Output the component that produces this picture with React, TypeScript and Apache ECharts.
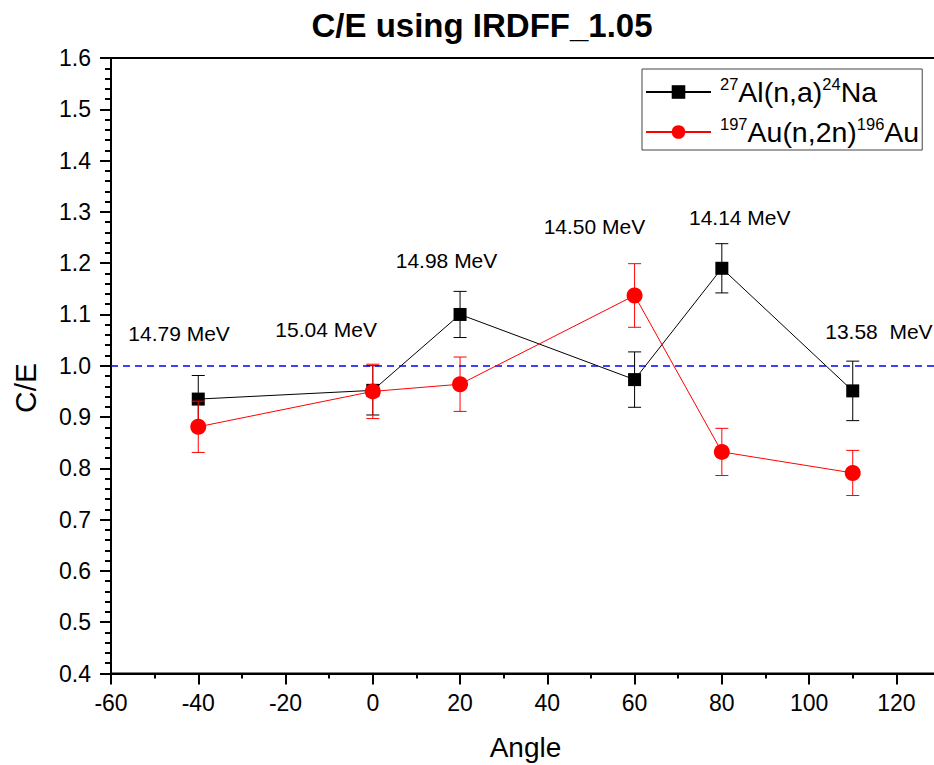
import React, { useEffect, useRef } from "react";
import * as echarts from "echarts";

const angles = [-40, 0, 20, 60, 80, 110];
const alValues = [0.935, 0.952, 1.1, 0.973, 1.19, 0.951];
const alErrors = [0.046, 0.048, 0.045, 0.054, 0.048, 0.058];
const auValues = [0.881, 0.95, 0.964, 1.137, 0.832, 0.791];
const auErrors = [0.05, 0.053, 0.053, 0.062, 0.046, 0.044];

const energyLabels = ["14.79 MeV", "15.04 MeV", "14.98 MeV", "14.50 MeV", "14.14 MeV", "13.58  MeV"];
const energyLabelX = [-44.4, -10.7, 16.9, 50.8, 84.1, 116];
const energyLabelY = [1.063, 1.07, 1.206, 1.272, 1.289, 1.067];

const alName = "27Al(n,a)24Na";
const auName = "197Au(n,2n)196Au";

const FONT = "'Liberation Sans', Arial, Helvetica, sans-serif";

function errorSeries(name: string, color: string, values: number[], errors: number[], z: number) {
  return {
    name,
    type: "custom",
    z,
    silent: true,
    data: angles.map((a, i) => [a, values[i] - errors[i], values[i] + errors[i]]),
    encode: { x: 0, y: [1, 2] },
    renderItem: (params: any, api: any) => {
      const x = api.value(0);
      const lo = api.coord([x, api.value(1)]);
      const hi = api.coord([x, api.value(2)]);
      const w = 6.5;
      const style = { stroke: color, lineWidth: 1 };
      return {
        type: "group",
        children: [
          { type: "line", shape: { x1: lo[0], y1: lo[1], x2: hi[0], y2: hi[1] }, style },
          { type: "line", shape: { x1: lo[0] - w, y1: lo[1], x2: lo[0] + w, y2: lo[1] }, style },
          { type: "line", shape: { x1: hi[0] - w, y1: hi[1], x2: hi[0] + w, y2: hi[1] }, style },
        ],
      };
    },
  };
}

export default function App() {
  const ref = useRef<HTMLDivElement>(null);
  useEffect(() => {
    if (!ref.current) return;
    const chart = echarts.init(ref.current, null, { renderer: "svg" });
    const option: any = {
      animation: false,
      backgroundColor: "#ffffff",
      textStyle: { fontFamily: FONT },
      grid: {
        left: 111,
        top: 58,
        width: 829,
        bottom: 91.5,
        containLabel: false,
        outerBoundsMode: "none",
        show: true,
        borderColor: "#000",
        borderWidth: 2,
        backgroundColor: "transparent",
      },
      graphic: [
        {
          type: "text",
          x: 482,
          y: 25,
          style: {
            text: "C/E using IRDFF_1.05",
            fontSize: 33,
            fontWeight: "bold",
            fontFamily: FONT,
            fill: "#000",
            align: "center",
            verticalAlign: "middle",
          },
        },
        {
          type: "text",
          x: 25,
          y: 388,
          rotation: Math.PI / 2,
          style: {
            text: "C/E",
            fontSize: 30,
            fontFamily: FONT,
            fill: "#000",
            align: "center",
            verticalAlign: "middle",
          },
        },
      ],
      legend: {
        data: [alName, auName],
        orient: "vertical",
        left: 642,
        top: 69,
        padding: [6, 3, 1, 3],
        itemGap: 6,
        itemWidth: 65,
        itemHeight: 17,
        borderColor: "#444",
        borderWidth: 1,
        backgroundColor: "#fff",
        selectedMode: false,
        formatter: (name: string) =>
          name === alName
            ? "{sup0|27}{n|Al(n,a)}{sup|24}{n|Na}"
            : "{sup0|197}{n|Au(n,2n)}{sup|196}{n|Au}",
        textStyle: {
          fontFamily: FONT,
          color: "#000",
          fontSize: 28.5,
          lineHeight: 34,
          rich: {
            n: { fontSize: 28.5, fontFamily: FONT, color: "#000", lineHeight: 34 },
            sup: { fontSize: 16.5, fontFamily: FONT, color: "#000", verticalAlign: "top" },
            sup0: {
              fontSize: 16.5,
              fontFamily: FONT,
              color: "#000",
              verticalAlign: "top",
              padding: [0, 0, 0, 4],
            },
          },
        },
      },
      xAxis: {
        type: "value",
        min: -60,
        max: 130,
        interval: 20,
        name: "Angle",
        nameLocation: "middle",
        nameGap: 60,
        nameTextStyle: { fontSize: 28, color: "#000", fontFamily: FONT },
        axisLine: { show: true, onZero: false, lineStyle: { color: "#000", width: 2 } },
        axisTick: { show: true, length: 11, lineStyle: { color: "#000", width: 2 } },
        minorTick: { show: true, splitNumber: 2, length: 5, lineStyle: { color: "#000", width: 2 } },
        splitLine: { show: false },
        axisLabel: {
          fontSize: 23,
          color: "#000",
          margin: 18,
          fontFamily: FONT,
          formatter: (v: number) => (v > 125 ? "" : String(v)),
        },
      },
      yAxis: {
        type: "value",
        min: 0.4,
        max: 1.6,
        interval: 0.1,
        axisLine: { show: true, onZero: false, lineStyle: { color: "#000", width: 2 } },
        axisTick: { show: true, length: 11, lineStyle: { color: "#000", width: 2 } },
        minorTick: { show: true, splitNumber: 5, length: 6, lineStyle: { color: "#000", width: 2 } },
        splitLine: { show: false },
        axisLabel: {
          fontSize: 23,
          color: "#000",
          margin: 20,
          fontFamily: FONT,
          formatter: (v: number) => v.toFixed(1),
        },
      },
      series: [
        errorSeries("alErr", "#000", alValues, alErrors, 2),
        {
          name: alName,
          type: "line",
          z: 3,
          data: angles.map((a, i) => [a, alValues[i]]),
          symbol: "rect",
          symbolSize: 13,
          itemStyle: { color: "#000" },
          lineStyle: { color: "#000", width: 1 },
          markLine: {
            silent: true,
            symbol: ["none", "none"],
            label: { show: false },
            lineStyle: { color: "#0000ff", type: [7, 5], width: 1.6 },
            data: [{ yAxis: 1 }],
          },
        },
        errorSeries("auErr", "#ff0000", auValues, auErrors, 4),
        {
          name: auName,
          type: "line",
          z: 5,
          data: angles.map((a, i) => [a, auValues[i]]),
          symbol: "circle",
          symbolSize: 16,
          itemStyle: { color: "#ff0000" },
          lineStyle: { color: "#ff0000", width: 1 },
        },
        {
          name: "energies",
          type: "scatter",
          z: 6,
          silent: true,
          symbolSize: 0,
          itemStyle: { color: "#000", opacity: 0 },
          data: energyLabels.map((t, i) => ({ name: t, value: [energyLabelX[i], energyLabelY[i]] })),
          label: {
            show: true,
            position: "inside",
            formatter: "{b}",
            fontSize: 21,
            color: "#000",
            opacity: 1,
            textBorderWidth: 0,
            fontFamily: FONT,
          },
        },
      ],
    };
    chart.setOption(option);
    return () => chart.dispose();
  }, []);
  return (
    <div
      ref={ref}
      style={{ position: "fixed", left: 0, top: 0, width: 934, height: 765, background: "#fff" }}
    />
  );
}
